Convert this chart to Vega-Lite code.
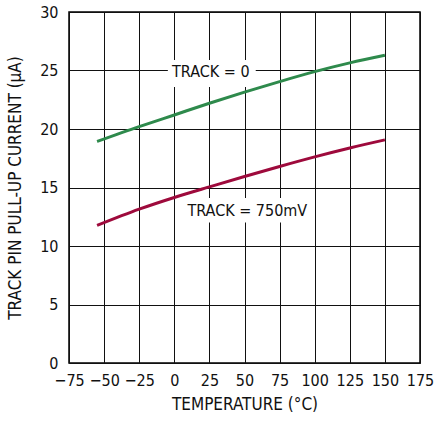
{
  "$schema": "https://vega.github.io/schema/vega-lite/v6.json",
  "width": 351,
  "height": 351,
  "autosize": {"type": "none"},
  "padding": {"left": 69, "top": 12, "right": 15, "bottom": 58},
  "background": "white",
  "config": {
    "font": "Liberation Sans Narrow, DejaVu Sans Condensed, Roboto, sans-serif",
    "view": {"stroke": "#000", "strokeWidth": 1.5}
  },
  "datasets": {
    "curves": [
      {"temp": -55, "current": 18.93, "series": "TRACK = 0"},
      {"temp": -25, "current": 20.2, "series": "TRACK = 0"},
      {"temp": 0, "current": 21.2, "series": "TRACK = 0"},
      {"temp": 25, "current": 22.2, "series": "TRACK = 0"},
      {"temp": 50, "current": 23.15, "series": "TRACK = 0"},
      {"temp": 75, "current": 24.05, "series": "TRACK = 0"},
      {"temp": 100, "current": 24.9, "series": "TRACK = 0"},
      {"temp": 125, "current": 25.65, "series": "TRACK = 0"},
      {"temp": 150, "current": 26.3, "series": "TRACK = 0"},
      {"temp": -55, "current": 11.76, "series": "TRACK = 750mV"},
      {"temp": -25, "current": 13.15, "series": "TRACK = 750mV"},
      {"temp": 0, "current": 14.15, "series": "TRACK = 750mV"},
      {"temp": 25, "current": 15.05, "series": "TRACK = 750mV"},
      {"temp": 50, "current": 15.94, "series": "TRACK = 750mV"},
      {"temp": 75, "current": 16.8, "series": "TRACK = 750mV"},
      {"temp": 100, "current": 17.62, "series": "TRACK = 750mV"},
      {"temp": 125, "current": 18.38, "series": "TRACK = 750mV"},
      {"temp": 150, "current": 19.07, "series": "TRACK = 750mV"}
    ],
    "labels": [
      {"text": "TRACK = 0", "temp": 26, "current": 24.85, "tlo": -4.6, "thi": 58, "clo": 23.6, "chi": 25.9},
      {"text": "TRACK = 750mV", "temp": 52, "current": 12.95, "tlo": 1, "thi": 99, "clo": 12.0, "chi": 14.1}
    ]
  },
  "layer": [
    {
      "data": {"name": "curves"},
      "mark": {"type": "line", "strokeWidth": 0, "opacity": 0},
      "encoding": {
        "x": {"field": "temp", "type": "quantitative", "scale": {"domain": [-75, 175], "nice": false, "zero": false},
          "axis": {"values": [-75, -50, -25, 0, 25, 50, 75, 100, 125, 150, 175], "tickCount": 20, "grid": true, "gridColor": "#111", "gridWidth": 1, "gridOpacity": 1,
            "domain": false, "tickSize": 0, "labelOverlap": false, "labelFlush": false,
            "labelFont": "Liberation Sans Narrow, DejaVu Sans Condensed, Roboto, sans-serif", "labelFontSize": 16, "labelColor": "#111",
            "title": "TEMPERATURE (°C)", "titleFont": "Liberation Sans Narrow, DejaVu Sans Condensed, Roboto, sans-serif", "titleFontSize": 17, "titleFontWeight": "normal", "titleColor": "#111",
            "labelPadding": 9, "titlePadding": 8}},
        "y": {"field": "current", "type": "quantitative", "scale": {"domain": [0, 30], "nice": false},
          "axis": {"values": [0, 5, 10, 15, 20, 25, 30], "tickCount": 20, "grid": true, "gridColor": "#111", "gridWidth": 1, "gridOpacity": 1,
            "domain": false, "tickSize": 0, "labelOverlap": false, "labelFlush": false,
            "labelFont": "Liberation Sans Narrow, DejaVu Sans Condensed, Roboto, sans-serif", "labelFontSize": 16, "labelColor": "#111",
            "title": "TRACK PIN PULL-UP CURRENT (μA)", "titleFont": "Liberation Sans Narrow, DejaVu Sans Condensed, Roboto, sans-serif", "titleFontSize": 17, "titleFontWeight": "normal", "titleColor": "#111",
            "labelPadding": 11, "titlePadding": 15}},
        "detail": {"field": "series", "type": "nominal"}
      }
    },
    {
      "data": {"name": "labels"},
      "mark": {"type": "rect", "fill": "white", "strokeWidth": 0},
      "encoding": {
        "x": {"field": "tlo", "type": "quantitative"},
        "x2": {"field": "thi"},
        "y": {"field": "clo", "type": "quantitative"},
        "y2": {"field": "chi"}
      }
    },
    {
      "data": {"name": "curves"},
      "mark": {"type": "line", "strokeWidth": 3, "interpolate": "monotone"},
      "encoding": {
        "x": {"field": "temp", "type": "quantitative"},
        "y": {"field": "current", "type": "quantitative"},
        "color": {"field": "series", "type": "nominal", "legend": null,
          "scale": {"domain": ["TRACK = 0", "TRACK = 750mV"], "range": ["#2e8a4c", "#9e0a3c"]}}
      }
    },
    {
      "data": {"name": "labels"},
      "mark": {"type": "text", "font": "Liberation Sans Narrow, DejaVu Sans Condensed, Roboto, sans-serif", "fontSize": 16, "color": "#111", "baseline": "middle", "align": "center"},
      "encoding": {
        "x": {"field": "temp", "type": "quantitative"},
        "y": {"field": "current", "type": "quantitative"},
        "text": {"field": "text"}
      }
    }
  ]
}
